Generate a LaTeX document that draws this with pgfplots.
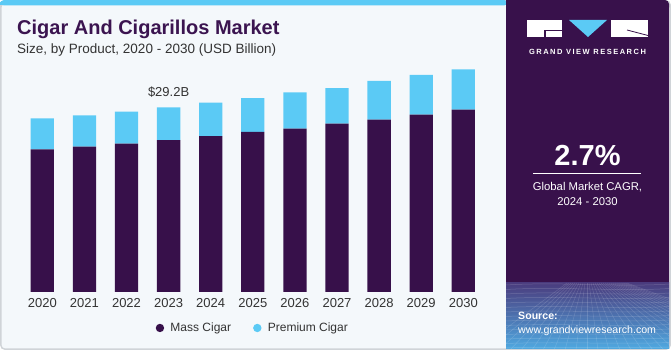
\documentclass[border=0pt]{standalone}
\usepackage{pgfplots}
\pgfplotsset{compat=1.18}
\usepackage{fontspec}
\setmainfont{Liberation Sans}
\definecolor{darkp}{HTML}{37104A}
\definecolor{lblue}{HTML}{5BCAF5}
\definecolor{bgc}{HTML}{F4F8FB}
\definecolor{bordc}{HTML}{D0D4D8}
\definecolor{titlec}{HTML}{3B1450}
\definecolor{txtc}{HTML}{333333}
\definecolor{panelc}{HTML}{38114B}
\definecolor{gradtop}{HTML}{4A3C7E}
\definecolor{gradbot}{HTML}{4FA8E0}
\begin{document}
\begin{tikzpicture}
\useasboundingbox (0,0) rectangle (671pt,350pt);
\begin{scope}[x=1pt,y=1pt]
  % card
  \fill[bordc,rounded corners=5pt] (0,0) rectangle (671,350);
  \fill[bgc,rounded corners=4pt] (1.5,1.5) rectangle (669.5,346);
  \fill[lblue,rounded corners=4pt] (0,344.5) rectangle (508,350);
  \fill[lblue] (0,344.5) rectangle (508,347);
  % panel
  \fill[panelc,rounded corners=4pt] (506,1.5) rectangle (669,350);
  \fill[panelc] (506,1.5) rectangle (600,350);
  \shade[top color=gradtop, bottom color=gradbot] (506,1.5) rectangle (669,67);
  \begin{scope}
    \clip (506,1.5) rectangle (669,67);
    \foreach \i in {0,...,14} {\draw[white,opacity=0.18,line width=0.5pt] (506,{2+\i*4.5}) .. controls (560,{4+\i*4.6}) and (620,{1+\i*4.4}) .. (669,{3+\i*4.5});}
    \foreach \i in {-10,...,20} {\draw[white,opacity=0.15,line width=0.5pt] ({587+\i*2},67) -- ({587+\i*11},0);}
  \end{scope}
  % logo
  \fill[white] (527,313) rectangle (562,330);
  \fill[panelc] (544,313) rectangle (545.5,319);
  \fill[panelc] (544,318.5) rectangle (562,320);
  \fill[lblue] (569,330) -- (607,330) -- (588,313) -- cycle;
  \fill[white] (611,313) rectangle (648,330);
  \draw[panelc,line width=0.8pt] (627,320) -- (648,314.5);
  \node[anchor=base,text=white,inner sep=0] at (587.5,295) {\addfontfeature{LetterSpace=20}\fontsize{7.5}{9}\selectfont\bfseries GRAND VIEW RESEARCH};
  % CAGR
  \node[anchor=base,text=white,inner sep=0] at (587.5,184) {\fontsize{29}{32}\selectfont\bfseries 2.7\%};
  \draw[white,line width=0.8pt] (533,177) -- (641,177);
  \node[anchor=base,text=white,inner sep=0] at (587.5,159) {\fontsize{11.3}{13}\selectfont Global Market CAGR,};
  \node[anchor=base,text=white,inner sep=0] at (587.5,144) {\fontsize{11.3}{13}\selectfont 2024 - 2030};
  \node[anchor=base west,text=white,inner sep=0] at (518,30) {\fontsize{10.6}{12}\selectfont\bfseries Source:};
  \node[anchor=base west,text=white,inner sep=0] at (518,16) {\fontsize{10.6}{12}\selectfont www.grandviewresearch.com};
  % titles
  \node[anchor=base west,text=titlec,inner sep=0] at (17,315.7) {\fontsize{20}{24}\selectfont\bfseries Cigar And Cigarillos Market};
  \node[anchor=base west,text=txtc,inner sep=0] at (17,296.7) {\fontsize{13.5}{16}\selectfont Size, by Product, 2020 - 2030 (USD Billion)};
\end{scope}
\begin{axis}[
  at={(21.25pt,58pt)}, anchor=south west, scale only axis,
  width=463.1pt, height=227.7pt,
  xmin=-0.5, xmax=10.5, ymin=0, ymax=36,
  ybar stacked, bar width=23.3pt,
  axis line style={draw=none}, ytick=\empty,
  xtick=data, xticklabels={2020,2021,2022,2023,2024,2025,2026,2027,2028,2029,2030},
  major tick length=0pt,
  xticklabel style={font=\fontsize{13}{15}\selectfont, text=txtc, yshift=-3pt},
  legend style={at={(0.50,-0.158)}, anchor=center, draw=none, fill=none,
    font=\fontsize{12}{14}\selectfont, text=txtc,
    /tikz/every even column/.append style={column sep=20pt}},
  legend columns=2,
  clip=false,
]
\addplot[fill=darkp, draw=none, legend image code/.code={\fill[darkp] (0pt,0pt) circle (4.2pt); \path (8.5pt,0pt);}] coordinates {(0,22.56) (1,22.97) (2,23.45) (3,24.03) (4,24.66) (5,25.30) (6,25.82) (7,26.61) (8,27.24) (9,28.03) (10,28.82)};
\addlegendentry{Mass Cigar}
\addplot[fill=lblue, draw=none, legend image code/.code={\fill[lblue] (0pt,0pt) circle (4.2pt); \path (8.5pt,0pt);}] coordinates {(0,4.90) (1,4.97) (2,5.06) (3,5.17) (4,5.27) (5,5.37) (6,5.75) (7,5.64) (8,6.12) (9,6.28) (10,6.39)};
\addlegendentry{Premium Cigar}
\node[above, yshift=6pt, text=txtc, font=\fontsize{13}{15}\selectfont] at (axis cs:3,29.2) {\$29.2B};
\end{axis}
\end{tikzpicture}
\end{document}
